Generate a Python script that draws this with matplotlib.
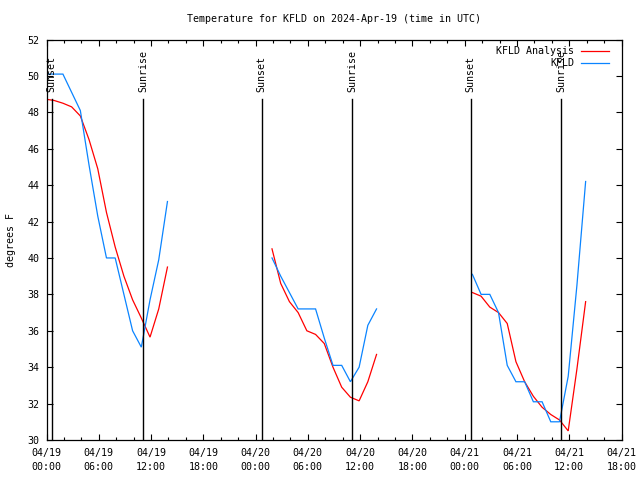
import matplotlib
matplotlib.use("Agg")
import matplotlib.pyplot as plt
import matplotlib.dates as mdates
import numpy as np
import pandas as pd

# ---- data ----
title = "Temperature for KFLD on 2024-Apr-19 (time in UTC)"
ylabel = "degrees F"

# KFLD observations (hourly, :53 past the hour)
obs_seg_starts = ["2024-04-18 23:53", "2024-04-20 01:53", "2024-04-21 00:53"]
obs_seg_values = [
    [50.1, 50.1, 50.1, 49.1, 48.1, 45.1, 42.3, 40.0, 40.0, 38.0, 36.0, 35.1, 37.7, 39.9, 43.1],
    [40.0, 39.0, 38.1, 37.2, 37.2, 37.2, 35.6, 34.1, 34.1, 33.2, 34.0, 36.3, 37.2],
    [39.1, 38.0, 38.0, 37.0, 34.1, 33.2, 33.2, 32.1, 32.1, 31.0, 31.0, 33.5, 38.5, 44.2],
]

# KFLD Analysis
ana_first_time = "2024-04-19 00:12"
ana_first_value = 48.7
ana_seg_starts = ["2024-04-19 00:53", "2024-04-20 01:53", "2024-04-21 00:53"]
ana_seg_values = [
    [48.65, 48.5, 48.3, 47.8, 46.5, 44.9, 42.5, 40.6, 39.0, 37.7, 36.7, 35.65, 37.2, 39.5],
    [40.5, 38.6, 37.6, 37.0, 36.0, 35.8, 35.3, 34.0, 32.9, 32.35, 32.15, 33.2, 34.7],
    [38.1, 37.9, 37.3, 37.0, 36.4, 34.3, 33.2, 32.4, 31.8, 31.4, 31.1, 30.5, 33.9, 37.6],
]

sunsets = ["2024-04-19 00:36", "2024-04-20 00:42", "2024-04-21 00:41"]
sunrises = ["2024-04-19 11:07", "2024-04-20 11:06", "2024-04-21 11:05"]

x_start = "2024-04-19 00:00"
x_end = "2024-04-21 18:00"
y_min, y_max = 30, 52

# ---- style ----
FONT = "DejaVu Sans Mono"
FS = 7.2
plt.rcParams["font.family"] = [FONT]
plt.rcParams["font.size"] = FS
RED = "#ff0000"
BLUE = "#0a84ff"


def build(starts, values, first=None):
    ts, vs = [], []
    for i, (s, vals) in enumerate(zip(starts, values)):
        t = pd.date_range(pd.Timestamp(s), periods=len(vals), freq="h")
        tl = list(t)
        vl = list(vals)
        if i == 0 and first is not None:
            tl = [pd.Timestamp(first[0])] + tl
            vl = [first[1]] + vl
        ts += tl
        vs += vl
        ts.append(tl[-1] + pd.Timedelta(minutes=1))
        vs.append(np.nan)
    return ts, vs


fig = plt.figure(figsize=(6.4, 4.8), dpi=100)
ax = fig.add_axes([46.5 / 640, 40 / 480, 575 / 640, 400.5 / 480])

at, av = build(ana_seg_starts, ana_seg_values, (ana_first_time, ana_first_value))
ot, ov = build(obs_seg_starts, obs_seg_values)
ax.plot(at, av, color=RED, lw=0.9, solid_joinstyle="miter")
ax.plot(ot, ov, color=BLUE, lw=0.9, solid_joinstyle="miter")

line_top = 0.851
text_bottom = 0.869
for lab, times in (("Sunset", sunsets), ("Sunrise", sunrises)):
    for t in times:
        tt = pd.Timestamp(t)
        ax.axvline(tt, ymin=0, ymax=line_top, color="black", lw=1.0)
        ax.text(tt, text_bottom, lab, rotation=90, ha="center", va="bottom",
                transform=ax.get_xaxis_transform(), fontsize=FS)

ax.set_xlim(pd.Timestamp(x_start), pd.Timestamp(x_end))
ax.set_ylim(y_min, y_max)
ax.set_yticks(np.arange(y_min, y_max + 1, 2))
ax.xaxis.set_major_locator(mdates.HourLocator(byhour=[0, 6, 12, 18]))
ax.xaxis.set_minor_locator(mdates.HourLocator(interval=2))
ax.xaxis.set_major_formatter(mdates.DateFormatter("%m/%d\n%H:%M"))

ax.tick_params(axis="both", which="major", direction="in", length=4, width=0.8,
               top=True, right=True, labelsize=FS)
ax.tick_params(axis="x", which="major", pad=6)
ax.tick_params(axis="y", which="major", pad=5)
ax.tick_params(axis="x", which="minor", direction="in", length=2.5, width=0.8,
               top=True)
for sp in ax.spines.values():
    sp.set_linewidth(0.9)
for lab in ax.get_xticklabels():
    lab.set_linespacing(1.5)

ax.set_ylabel(ylabel, fontsize=FS, labelpad=8)
fig.text(334 / 640, 1 - 19 / 480, title, ha="center", va="center", fontsize=FS)

# legend (gnuplot style: right aligned text, then line sample)
leg = [("KFLD Analysis", RED), ("KFLD", BLUE)]
for i, (txt, col) in enumerate(leg):
    y = 0.972 - i * 0.030
    ax.text(0.918, y, txt, transform=ax.transAxes, ha="right", va="center", fontsize=FS)
    ax.plot([0.930, 0.978], [y, y], transform=ax.transAxes, color=col, lw=0.9, clip_on=False)

fig.savefig("out.png", dpi=100)
